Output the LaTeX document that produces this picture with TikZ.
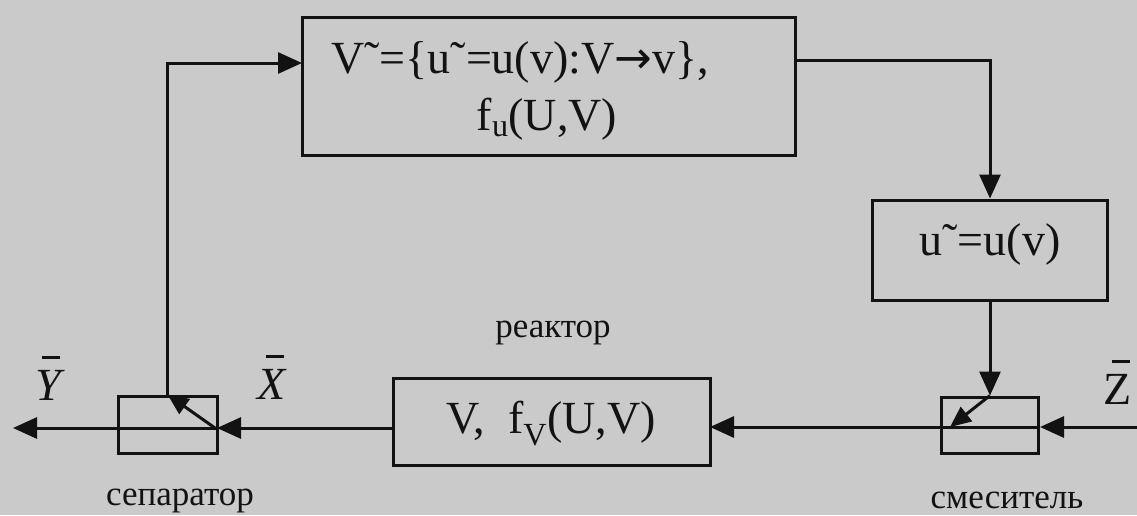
\documentclass[tikz,border=0pt]{standalone}
\usepackage{fontspec}
\setmainfont{Liberation Serif}
\newfontfamily\arrowfont{DejaVu Sans}
\usetikzlibrary{arrows.meta}
\definecolor{paper}{RGB}{202,202,202}
\definecolor{ink}{RGB}{18,18,18}
\newcommand\barover[1]{\leavevmode\setbox0\hbox{#1}\rlap{\hbox to\wd0{\hss\hspace{0.12em}\rule[0.9em]{0.4em}{0.05em}\hss}}\box0}
\tikzset{
 box/.style={draw=ink, line width=3pt, rectangle, inner sep=0pt},
 conn/.style={draw=ink, line width=3pt},
 arr/.style={conn, -{Triangle[length=24pt,width=21pt]}},
 sarr/.style={conn, -{Triangle[length=21pt,width=18pt]}},
 txt/.style={text=ink, font=\fontsize{46}{54}\selectfont, inner sep=0pt, anchor=base},
 lbl/.style={text=ink, font=\fontsize{35}{42}\selectfont, inner sep=0pt, anchor=base},
 var/.style={text=ink, font=\fontsize{46}{54}\selectfont, inner sep=0pt, anchor=base},
}
\begin{document}
\begin{tikzpicture}[x=1pt,y=-1pt]
\fill[paper] (0,0) rectangle (1137,515);
\useasboundingbox (0,0) rectangle (1137,515);
% boxes
\node[box, minimum width=493pt, minimum height=138pt] (top) at (548.5,86) {};
\node[box, minimum width=235pt, minimum height=100pt] (ubox) at (990,250) {};
\node[box, minimum width=317pt, minimum height=87pt] (rbox) at (551.5,421.5) {};
\node[box, minimum width=99pt, minimum height=57pt] (sep) at (167.5,424.5) {};
\node[box, minimum width=97pt, minimum height=56pt] (mix) at (990,425) {};
% texts
\node[txt] (t1) at (520,73) {V˜=\{u˜=u(v):V{\arrowfont\fontsize{45}{45}\selectfont →}v\},};
\node[txt] (t2) at (547,130) {f\textsubscript{u}(U,V)};
\node[txt] (t3) at (990,255) {u˜=u(v)};
\node[txt] (t4) at (551,433) {V,\ \ f\textsubscript{V}(U,V)};
\node[lbl] (lr) at (553,337) {реактор};
\node[lbl] (ls) at (180,505) {сепаратор};
\node[lbl] (lm) at (1007,508) {смеситель};
\node[var] (vy) at (48,400) {\barover{\itshape Y}};
\node[var] (vx) at (272,399) {\barover{\itshape X}};
\node[var] (vz) at (1118,404) {\barover{Z}};
% coordinates
\coordinate (yout) at (13,428);
\coordinate (sepR) at (217,428);
\coordinate (sepIn) at (215,428);
\coordinate (rL) at (393,428);
\coordinate (rR) at (710,427);
\coordinate (mixR) at (1040,427);
\coordinate (mixIn) at (950,427);
\coordinate (zin) at (1137,427);
\coordinate (topL) at (302,63);
\coordinate (topR) at (795,60);
% connectors
\draw[arr] (rL) -- (sepR);
\draw[arr] (sepR) -- (yout);
\draw[sarr] (sepIn) -- (sep.north);
\draw[arr] (sep.north) |- (topL);
\draw[arr] (topR) -| (ubox.north);
\draw[arr] (ubox.south) -- (mix.north);
\draw[sarr] (mix.north) -- (mixIn);
\draw[arr] (zin) -- (mixR);
\draw[arr] (mixR) -- (rR);
\end{tikzpicture}
\end{document}
